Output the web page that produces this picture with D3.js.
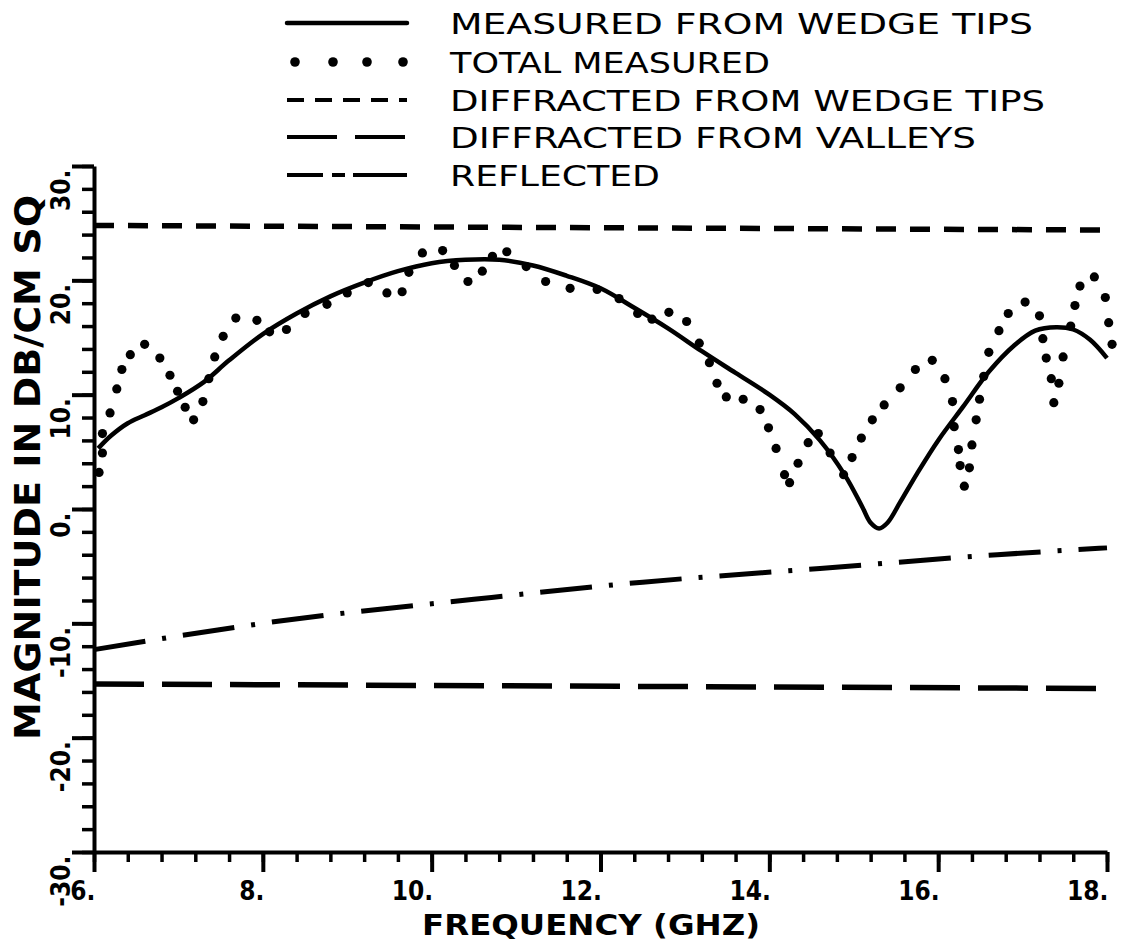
<!DOCTYPE html>
<html>
<head>
<meta charset="utf-8">
<script src="https://cdn.jsdelivr.net/npm/d3@7"></script>
<style>
  html, body { margin: 0; padding: 0; background: #fff; }
  svg { display: block; }
</style>
</head>
<body>
<svg id="chart" width="1122" height="947"></svg>
<script>
// ---------------- data ----------------
const freqSolid = [6.05, 6.2, 6.4, 6.6, 6.8, 7.0, 7.3, 7.6, 8.0, 8.4, 8.8, 9.2, 9.6, 10.0, 10.4, 10.8, 11.2, 11.6, 12.0, 12.4, 12.8, 13.2, 13.6, 14.0, 14.3, 14.6, 14.9, 15.1, 15.2, 15.3, 15.4, 15.55, 15.75, 16.0, 16.3, 16.6, 16.9, 17.15, 17.4, 17.6, 17.8, 18.0];
const magSolid  = [5.3, 6.4, 7.5, 8.2, 8.9, 9.7, 11.1, 13.0, 15.3, 17.1, 18.6, 19.8, 20.8, 21.5, 21.8, 21.8, 21.3, 20.4, 19.3, 17.6, 15.8, 13.8, 11.9, 10.0, 8.3, 6.0, 2.9, 0.2, -1.2, -1.7, -1.2, 0.6, 3.1, 6.0, 9.0, 12.0, 14.3, 15.6, 15.9, 15.7, 14.8, 13.2];

const freqDots = [6.06, 6.1, 6.1, 6.19, 6.27, 6.33, 6.43, 6.6, 6.78, 6.9, 6.99, 7.08, 7.18, 7.29, 7.36, 7.43, 7.53, 7.68, 7.93, 8.08, 8.28, 8.5, 8.76, 9.0, 9.25, 9.47, 9.65, 9.73, 9.89, 10.13, 10.27, 10.43, 10.6, 10.72, 10.89, 11.12, 11.35, 11.64, 11.96, 12.22, 12.44, 12.61, 12.81, 13.02, 13.17, 13.29, 13.38, 13.49, 13.69, 13.89, 13.99, 14.08, 14.18, 14.24, 14.34, 14.46, 14.58, 14.72, 14.88, 14.98, 15.09, 15.22, 15.36, 15.55, 15.73, 15.93, 16.08, 16.17, 16.19, 16.24, 16.26, 16.31, 16.37, 16.4, 16.45, 16.49, 16.54, 16.6, 16.72, 16.83, 17.03, 17.2, 17.24, 17.28, 17.34, 17.37, 17.43, 17.48, 17.57, 17.62, 17.68, 17.85, 17.98, 18.02, 18.06];
const magDots  = [3.2, 4.9, 6.6, 8.4, 10.5, 12.2, 13.5, 14.4, 13.2, 11.7, 10.3, 8.9, 7.8, 9.4, 11.4, 13.3, 15.1, 16.7, 16.5, 15.5, 15.7, 17.1, 17.9, 18.9, 19.8, 18.9, 19.0, 20.7, 22.4, 22.6, 21.3, 19.9, 20.8, 22.1, 22.5, 21.2, 19.9, 19.3, 19.2, 18.4, 17.1, 16.6, 17.2, 16.4, 14.5, 12.8, 11.0, 9.8, 9.6, 8.7, 7.1, 5.3, 3.0, 2.3, 4.0, 5.8, 6.6, 4.9, 3.0, 4.5, 6.2, 7.8, 9.1, 10.6, 12.2, 13.0, 11.4, 9.4, 7.2, 5.2, 3.8, 2.0, 3.6, 5.6, 7.8, 9.6, 11.6, 13.7, 15.6, 17.1, 18.1, 16.9, 14.9, 13.2, 11.4, 9.3, 11.0, 13.3, 16.0, 17.8, 19.5, 20.3, 18.5, 16.3, 14.4];

const freqTips = [6, 18];
const magTips  = [24.8, 24.4];

const freqValleys = [6, 18];
const magValleys  = [-15.3, -15.7];

const freqRefl = [6, 8.2, 10.5, 12.5, 14.6, 16.7, 18];
const magRefl  = [-12.3, -9.8, -7.9, -6.4, -5.2, -4.0, -3.4];

const xMajorTicks = [6, 8, 10, 12, 14, 16, 18];
const xTickLabels = ["6.", "8.", "10.", "12.", "14.", "16.", "18."];
const yMajorTicks = [-30, -20, -10, 0, 10, 20, 30];
const yTickLabels = ["-30.", "-20.", "-10.", "0.", "10.", "20.", "30."];

const legendLabels = ["MEASURED FROM WEDGE TIPS", "TOTAL MEASURED", "DIFFRACTED FROM WEDGE TIPS", "DIFFRACTED FROM VALLEYS", "REFLECTED"];
const xTitle = "FREQUENCY (GHZ)";
const yTitle = "MAGNITUDE IN DB/CM SQ";

// ---------------- layout ----------------
const svg = d3.select("#chart");
const x = d3.scaleLinear().domain([6, 18]).range([94, 1107]);
const y = d3.scaleLinear().domain([-30, 30]).range([852, 166]);
const tickFont = "'DejaVu Sans Condensed', 'DejaVu Sans', sans-serif";

// minor ticks
svg.append("g")
  .attr("transform", `translate(0,${y(-30)})`)
  .call(d3.axisBottom(x).tickValues(d3.range(6, 18.01, 0.4)).tickSize(10).tickSizeOuter(0).tickFormat(""))
  .call(g => g.select(".domain").remove())
  .call(g => g.selectAll("line").attr("stroke", "#000").attr("stroke-width", 3.5));
svg.append("g")
  .attr("transform", `translate(${x(6)},0)`)
  .call(d3.axisLeft(y).tickValues(d3.range(-30, 30.01, 2)).tickSize(12).tickSizeOuter(0).tickFormat(""))
  .call(g => g.select(".domain").remove())
  .call(g => g.selectAll("line").attr("stroke", "#000").attr("stroke-width", 3.5));

// major x axis
const xAxis = svg.append("g")
  .attr("transform", `translate(0,${y(-30)})`)
  .call(d3.axisBottom(x).tickValues(xMajorTicks).tickSize(20).tickSizeOuter(0)
        .tickFormat((d, i) => xTickLabels[i]));
xAxis.select(".domain").attr("stroke", "#000").attr("stroke-width", 4);
xAxis.selectAll("line").attr("stroke", "#000").attr("stroke-width", 4);
xAxis.selectAll("text")
  .attr("y", 48).attr("dy", 0).attr("x", 1)
  .attr("text-anchor", "end")
  .attr("fill", "#000")
  .style("font-family", tickFont).style("font-weight", "bold").style("font-size", "26px");

// major y axis
const yAxis = svg.append("g")
  .attr("transform", `translate(${x(6)},0)`)
  .call(d3.axisLeft(y).tickValues(yMajorTicks).tickSize(22).tickSizeOuter(0)
        .tickFormat((d, i) => yTickLabels[i]));
yAxis.select(".domain").attr("stroke", "#000").attr("stroke-width", 4);
yAxis.selectAll("line").attr("stroke", "#000").attr("stroke-width", 4);
yAxis.selectAll("text")
  .attr("transform", "rotate(-90)")
  .attr("x", -3).attr("y", -24).attr("dy", 0)
  .attr("text-anchor", "end")
  .attr("fill", "#000")
  .style("font-family", tickFont).style("font-weight", "bold").style("font-size", "26px");

// axis titles
svg.append("text")
  .attr("x", 422).attr("y", 935)
  .attr("textLength", 338).attr("lengthAdjust", "spacingAndGlyphs")
  .style("font-family", "'DejaVu Sans', sans-serif").style("font-weight", "bold").style("font-size", "29px")
  .text(xTitle);
svg.append("text")
  .attr("transform", "translate(40,740) rotate(-90)")
  .attr("x", 0).attr("y", 0)
  .attr("textLength", 545).attr("lengthAdjust", "spacingAndGlyphs")
  .style("font-family", "'DejaVu Sans', sans-serif").style("font-weight", "bold").style("font-size", "35px")
  .text(yTitle);

// ---------------- series ----------------
const lineGen = d3.line().x(d => x(d[0])).y(d => y(d[1]));

svg.append("path")
  .datum(d3.zip(freqTips, magTips))
  .attr("d", lineGen)
  .attr("fill", "none").attr("stroke", "#000").attr("stroke-width", 5.5)
  .attr("stroke-dasharray", "20 14");

svg.append("path")
  .datum(d3.zip(freqValleys, magValleys))
  .attr("d", lineGen)
  .attr("fill", "none").attr("stroke", "#000").attr("stroke-width", 5.5)
  .attr("stroke-dasharray", "50 18");

svg.append("path")
  .datum(d3.zip(freqRefl, magRefl))
  .attr("d", d3.line().x(d => x(d[0])).y(d => y(d[1])).curve(d3.curveMonotoneX))
  .attr("fill", "none").attr("stroke", "#000").attr("stroke-width", 5)
  .attr("stroke-dasharray", "52 17 4 17");

svg.append("path")
  .datum(d3.zip(freqSolid, magSolid))
  .attr("d", d3.line().x(d => x(d[0])).y(d => y(d[1])).curve(d3.curveCatmullRom.alpha(0.5)))
  .attr("fill", "none").attr("stroke", "#000").attr("stroke-width", 4.5)
  .attr("stroke-linejoin", "round");

svg.append("g").selectAll("circle")
  .data(d3.zip(freqDots, magDots))
  .join("circle")
  .attr("cx", d => x(d[0])).attr("cy", d => y(d[1]))
  .attr("r", 4.6).attr("fill", "#000");

// ---------------- legend ----------------
const legendRowY = [23, 62, 100, 137, 175];
const legendTextLen = [583, 320, 595, 526, 210];
const lx0 = 287, lx1 = 407;
const legend = svg.append("g");
legend.append("line").attr("x1", lx0).attr("x2", lx1).attr("y1", legendRowY[0]).attr("y2", legendRowY[0])
  .attr("stroke", "#000").attr("stroke-width", 4.5).attr("stroke-linecap", "round");
legend.selectAll("circle.leg").data([295, 333, 367, 403]).join("circle")
  .attr("class", "leg").attr("cx", d => d).attr("cy", legendRowY[1]).attr("r", 4.8).attr("fill", "#000");
legend.append("line").attr("x1", lx0).attr("x2", lx1).attr("y1", legendRowY[2]).attr("y2", legendRowY[2])
  .attr("stroke", "#000").attr("stroke-width", 4).attr("stroke-dasharray", "17 11");
legend.append("line").attr("x1", lx0).attr("x2", lx1).attr("y1", legendRowY[3]).attr("y2", legendRowY[3])
  .attr("stroke", "#000").attr("stroke-width", 4).attr("stroke-dasharray", "50 18");
legend.append("line").attr("x1", lx0).attr("x2", lx1).attr("y1", legendRowY[4]).attr("y2", legendRowY[4])
  .attr("stroke", "#000").attr("stroke-width", 4).attr("stroke-dasharray", "36 9 13 8 60");

legend.selectAll("text").data(legendLabels).join("text")
  .attr("x", 450).attr("y", (d, i) => legendRowY[i] + 11)
  .attr("textLength", (d, i) => legendTextLen[i]).attr("lengthAdjust", "spacingAndGlyphs")
  .style("font-family", "'DejaVu Sans', sans-serif").style("font-size", "29px")
  .text(d => d);
</script>
</body>
</html>
